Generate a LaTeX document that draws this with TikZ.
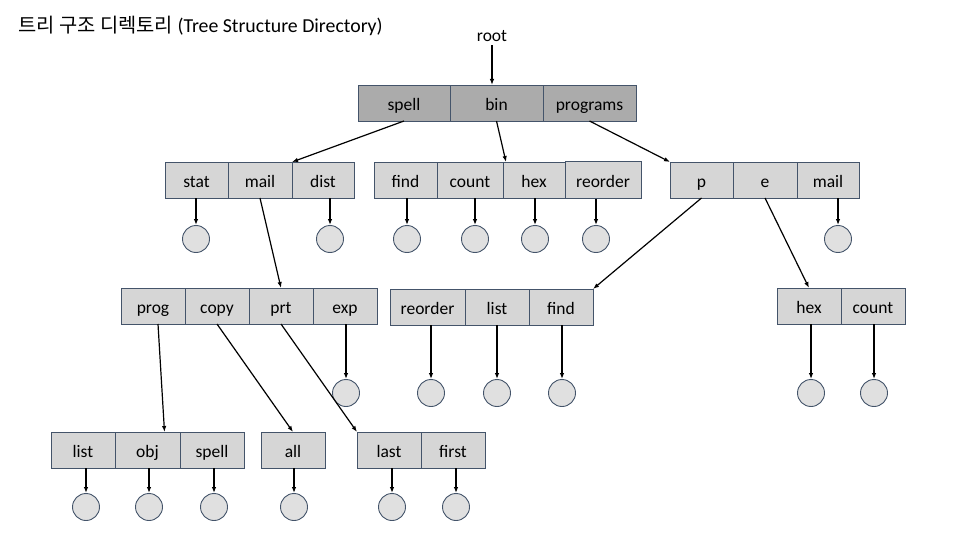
\documentclass[tikz,border=0pt]{standalone}
\usepackage{fontspec}
\setmainfont{Carlito}
\newfontfamily\krfont{Noto Sans CJK KR}
\usetikzlibrary{positioning,arrows.meta}
\definecolor{boxline}{HTML}{44546A}
\definecolor{topfill}{HTML}{ABABAB}
\definecolor{dirfill}{HTML}{D6D6D6}
\definecolor{filefill}{HTML}{E0E0E0}

\begin{document}
\begin{tikzpicture}[x=1pt,y=-1pt,node distance=0pt,
  >={Latex[length=6pt,width=4.5pt]},
  dir/.style={draw=boxline,fill=dirfill,line width=0.9pt,outer sep=0pt,inner sep=0pt,
    text height=14.6pt,text depth=0pt,
    minimum height=36pt,minimum width=64pt,font=\fontsize{17.5}{20}\selectfont},
  topdir/.style={dir,fill=topfill,minimum width=93pt},
  file/.style={circle,draw=boxline,fill=filefill,line width=0.9pt,minimum size=27pt,inner sep=0pt},
  link/.style={->,line width=1.2pt}]
\useasboundingbox (0,0) rectangle (960,540);

% title and root
\node[anchor=west,font=\fontsize{19.8}{23}\selectfont] (title) at (15,26)
  {{\krfont 트리 구조 디렉토리} (Tree Structure Directory)};
\node[font=\fontsize{17.5}{20}\selectfont] (root) at (492,36) {root};

% level 1
\node[topdir,minimum width=92pt] (spell) at (404,103) {spell};
\node[topdir,right=of spell] (bin) {bin};
\node[topdir,right=of bin] (programs) {programs};

% level 2
\node[dir,minimum width=63pt] (spellstat) at (196.5,180) {stat};
\node[dir,right=of spellstat] (spellmail) {mail};
\node[dir,minimum width=62pt,right=of spellmail] (spelldist) {dist};

\node[dir,minimum width=63pt] (binfind) at (405.5,180) {find};
\node[dir,minimum width=66pt,right=of binfind] (bincount) {count};
\node[dir,minimum width=62pt,right=of bincount] (binhex) {hex};
\node[dir,minimum width=76pt,minimum height=37pt,right=of binhex] (binreorder) {reorder};

\node[dir,minimum width=63pt] (progp) at (701.5,180) {p};
\node[dir,right=of progp] (proge) {e};
\node[dir,minimum width=62pt,right=of proge] (progmail) {mail};

% level 3
\node[dir] (mailprog) at (153,306) {prog};
\node[dir,right=of mailprog] (mailcopy) {copy};
\node[dir,right=of mailcopy] (mailprt) {prt};
\node[dir,right=of mailprt] (mailexp) {exp};

\node[dir,minimum width=75pt] (preorder) at (427.5,307) {reorder};
\node[dir,right=of preorder] (plist) {list};
\node[dir,right=of plist] (pfind) {find};

\node[dir] (ehex) at (809,306) {hex};
\node[dir,right=of ehex] (ecount) {count};

% level 4
\node[dir] (proglist) at (83,450) {list};
\node[dir,minimum width=65pt,right=of proglist] (progobj) {obj};
\node[dir,right=of progobj] (progspell) {spell};

\node[dir] (copyall) at (293,450) {all};

\node[dir] (prtlast) at (389,450) {last};
\node[dir,right=of prtlast] (prtfirst) {first};

% files
\node[file] (fspellstat) at (196,239) {};
\node[file] (fspelldist) at (330,239) {};
\node[file] (fbinfind) at (407,239) {};
\node[file] (fbincount) at (475,239) {};
\node[file] (fbinhex) at (535,239) {};
\node[file] (fbinreorder) at (596,239) {};
\node[file] (fprogmail) at (838,239) {};

\node[file] (fmailexp) at (346,393) {};
\node[file] (fpreorder) at (431,393) {};
\node[file] (fplist) at (497,393) {};
\node[file] (fpfind) at (562,393) {};
\node[file] (fehex) at (811,393) {};
\node[file] (fecount) at (874,393) {};

\node[file] (fproglist) at (86,507) {};
\node[file] (fprogobj) at (149,507) {};
\node[file] (fprogspell) at (214,507) {};
\node[file] (fcopyall) at (294,507) {};
\node[file] (fprtlast) at (392,507) {};
\node[file] (fprtfirst) at (456,507) {};

% links between directories
\draw[link] (root.south) -- (root.south |- bin.north);
\draw[link] (spell.south) -- (spellmail.north east);
\draw[link] (bin.south) -- ([xshift=3pt]binhex.north west);
\draw[link] (programs.south) -- (progp.north west);
\draw[link] (spellmail.south) -- (mailprt.north);
\draw[link] (progp.south) -- (pfind.north east);
\draw[link] (proge.south) -- (ehex.north);
\draw[link] ([xshift=5pt]mailprog.south) -- ([xshift=17pt]progobj.north);
\draw[link] (mailcopy.south) -- (copyall.north);
\draw[link] (mailprt.south) -- (prtlast.north west);

% links to files
\foreach \d in {spellstat,spelldist,binfind,bincount,binhex,binreorder,progmail,
  mailexp,preorder,plist,pfind,ehex,ecount,
  proglist,progobj,progspell,copyall,prtlast,prtfirst}
  \draw[link] (f\d |- \d.south) -- (f\d.north);
\end{tikzpicture}
\end{document}
